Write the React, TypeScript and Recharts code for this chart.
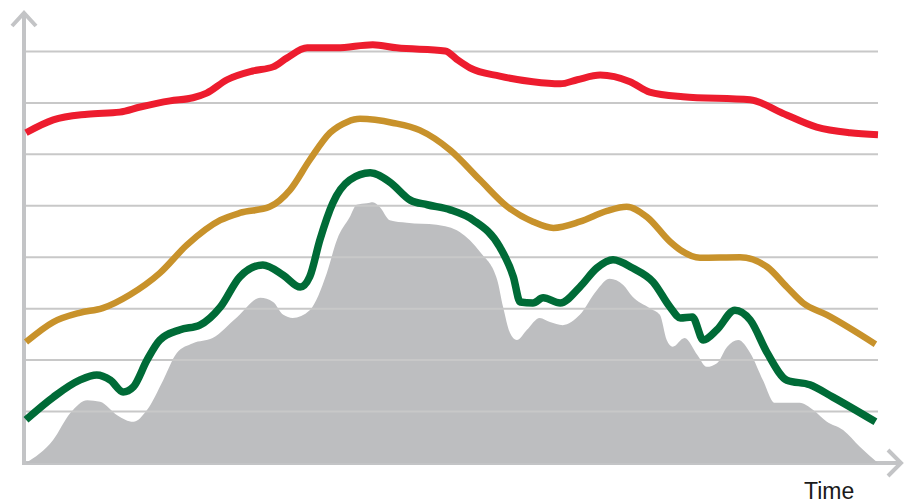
import React from "react";
import { ComposedChart, Line, Area, XAxis, YAxis, ReferenceLine, Customized } from "recharts";

// time runs 0..100, values 0..9 (gridlines at 1..8)
const gridValues = [1, 2, 3, 4, 5, 6, 7, 8];

const redTime = [0, 3.2, 7.2, 11.0, 13.4, 16.9, 19.6, 21.2, 23.6, 26.6, 29.0, 30.6, 33.0, 36.5, 40.7, 43.5, 49.2, 50.7, 52.1, 55.6, 59.5, 62.7, 64.7, 67.4, 70.9, 73.2, 77.1, 85.0, 88.8, 92.8, 96.7, 100];
const redValue = [6.42, 6.67, 6.78, 6.82, 6.92, 7.04, 7.1, 7.19, 7.45, 7.62, 7.7, 7.87, 8.07, 8.07, 8.13, 8.07, 8.01, 7.83, 7.68, 7.52, 7.41, 7.37, 7.45, 7.54, 7.41, 7.21, 7.12, 7.06, 6.8, 6.53, 6.42, 6.38];

const goldTime = [0, 3.2, 6.3, 9.0, 12.2, 15.7, 18.9, 22.8, 25.1, 28.6, 31.0, 33.3, 35.7, 37.7, 39.2, 43.1, 46.2, 49.8, 53.3, 56.5, 59.5, 61.9, 65.0, 68.2, 70.5, 72.9, 75.6, 76.8, 79.1, 83.8, 87.0, 89.3, 91.2, 94.0, 99.7];
const goldValue = [2.35, 2.74, 2.92, 3.01, 3.27, 3.69, 4.24, 4.72, 4.86, 4.98, 5.31, 5.89, 6.42, 6.63, 6.69, 6.61, 6.47, 6.08, 5.5, 4.98, 4.69, 4.57, 4.69, 4.9, 4.98, 4.78, 4.3, 4.14, 3.99, 4.0, 3.81, 3.42, 3.11, 2.88, 2.31];

const greenTime = [0, 3.2, 6.3, 8.3, 9.9, 11.4, 12.6, 14.2, 15.7, 18.1, 20.4, 22.8, 25.1, 27.8, 30.2, 32.2, 33.3, 34.5, 36.0, 38.0, 40.4, 42.7, 45.1, 47.1, 49.8, 52.5, 55.6, 57.2, 58.0, 59.5, 60.7, 62.7, 65.0, 67.0, 68.9, 71.2, 73.6, 75.6, 76.8, 78.2, 79.5, 81.1, 83.2, 85.0, 87.0, 89.3, 92.0, 94.7, 99.7];
const greenValue = [0.84, 1.28, 1.61, 1.71, 1.61, 1.38, 1.48, 2.0, 2.39, 2.59, 2.68, 3.03, 3.62, 3.85, 3.65, 3.42, 3.62, 4.34, 5.05, 5.5, 5.64, 5.46, 5.11, 5.02, 4.92, 4.72, 4.2, 3.62, 3.13, 3.11, 3.21, 3.11, 3.42, 3.79, 3.95, 3.79, 3.52, 3.03, 2.82, 2.84, 2.39, 2.59, 2.97, 2.78, 2.14, 1.61, 1.52, 1.28, 0.8];

const grayTime = [0, 3.2, 5.2, 7.2, 8.7, 10.7, 12.6, 14.2, 16.1, 17.7, 19.6, 21.9, 24.8, 27.5, 29.0, 30.2, 31.3, 33.3, 35.3, 36.5, 38.0, 38.8, 40.0, 40.7, 41.5, 42.7, 44.7, 48.2, 50.9, 53.3, 55.3, 56.0, 56.8, 57.6, 58.8, 60.3, 61.5, 63.0, 65.0, 67.0, 68.5, 70.1, 71.2, 73.2, 74.4, 75.2, 75.9, 77.3, 78.8, 79.9, 81.1, 82.3, 83.6, 85.0, 86.5, 87.9, 90.8, 92.4, 94.0, 95.9, 97.9, 100];
const grayValue = [0, 0.45, 0.97, 1.22, 1.19, 0.93, 0.8, 1.03, 1.61, 2.14, 2.33, 2.43, 2.84, 3.21, 3.13, 2.88, 2.82, 2.97, 3.69, 4.34, 4.78, 5.02, 5.05, 5.07, 4.98, 4.72, 4.67, 4.63, 4.49, 4.1, 3.56, 3.03, 2.53, 2.39, 2.59, 2.82, 2.74, 2.68, 2.88, 3.36, 3.58, 3.46, 3.23, 3.01, 2.88, 2.39, 2.26, 2.43, 2.1, 1.87, 1.94, 2.26, 2.39, 2.14, 1.61, 1.17, 1.17, 1.03, 0.8, 0.64, 0.31, 0];

const toPoints = (time: number[], value: number[]) => time.map((t, i) => ({ t, v: value[i] }));

const redData = toPoints(redTime, redValue);
const goldData = toPoints(goldTime, goldValue);
const greenData = toPoints(greenTime, greenValue);
const grayData = toPoints(grayTime, grayValue);

const AXIS_COLOR = "#c3c4c6";

// axis arrows + label, drawn over the chart
const Axes = () => (
  <g>
    <line x1={24} y1={465} x2={24} y2={12} stroke={AXIS_COLOR} strokeWidth={4} />
    <polyline points="12,26 24,13 36,26" fill="none" stroke={AXIS_COLOR} strokeWidth={4} />
    <line x1={22} y1={463} x2={902} y2={463} stroke={AXIS_COLOR} strokeWidth={4} />
    <polyline points="888,450 901,463 888,476" fill="none" stroke={AXIS_COLOR} strokeWidth={4} />
    <text x={804} y={499} fontSize={23} fontFamily="Liberation Sans, Arial, sans-serif" fill="#1a1a1a">
      Time
    </text>
  </g>
);

export default function App() {
  return (
    <div style={{ position: "absolute", left: 0, top: 0, width: 913, height: 504, background: "#fff" }}>
      <ComposedChart width={913} height={504} margin={{ top: 0, right: 35, left: 26, bottom: 41 }}>
        <XAxis type="number" dataKey="t" domain={[0, 100]} hide />
        <YAxis type="number" domain={[0, 9]} hide />
        {gridValues.map((g) => (
          <ReferenceLine key={g} y={g} stroke="#c8c8c8" strokeWidth={2} />
        ))}
        <Area
          data={grayData}
          dataKey="v"
          type="monotone"
          stroke="none"
          fill="#bdbec0"
          fillOpacity={1}
          isAnimationActive={false}
        />
        <Line data={redData} dataKey="v" type="monotone" stroke="#ed1c2e" strokeWidth={7} dot={false} activeDot={false} isAnimationActive={false} />
        <Line data={goldData} dataKey="v" type="monotone" stroke="#c8922b" strokeWidth={6.5} dot={false} activeDot={false} isAnimationActive={false} />
        <Line data={greenData} dataKey="v" type="monotone" stroke="#006b37" strokeWidth={7.5} dot={false} activeDot={false} isAnimationActive={false} />
        <Customized component={<Axes />} />
      </ComposedChart>
    </div>
  );
}
